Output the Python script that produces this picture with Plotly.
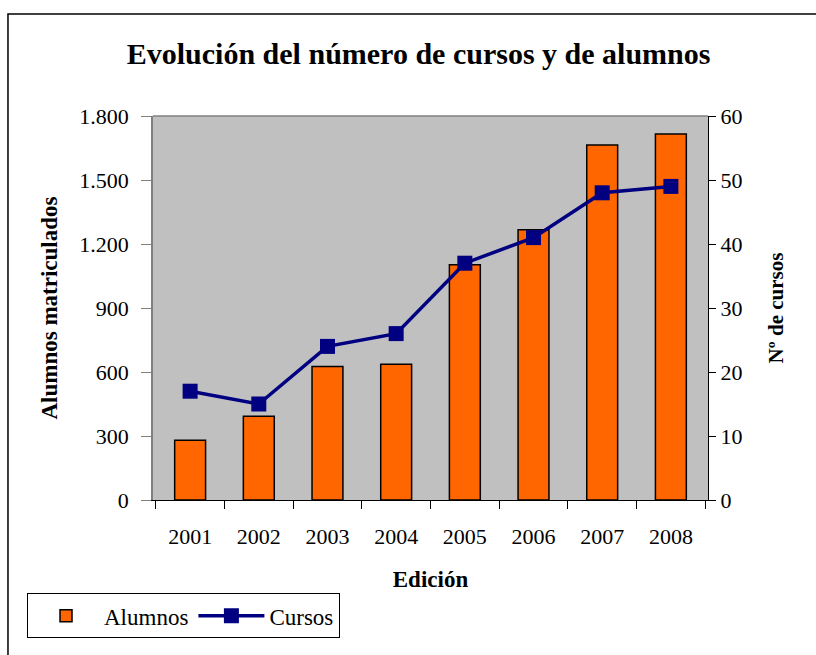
import plotly.graph_objects as go

ediciones = ["2001", "2002", "2003", "2004", "2005", "2006", "2007", "2008"]
alumnos = [280, 392, 626, 636, 1103, 1267, 1664, 1716]
cursos = [17, 15, 24, 26, 37, 41, 48, 49]
ticks_alumnos = [0, 300, 600, 900, 1200, 1500, 1800]
ticks_alumnos_txt = ["0", "300", "600", "900", "1.200", "1.500", "1.800"]

FUENTE = "Liberation Serif, Times New Roman, serif"

fig = go.Figure()

fig.add_trace(go.Bar(
    x=ediciones, y=alumnos, name="Alumnos",
    marker=dict(color="#FF6600", line=dict(color="black", width=1.5)),
    width=0.45,
))

fig.add_trace(go.Scatter(
    x=ediciones, y=cursos, name="Cursos", yaxis="y2",
    mode="lines+markers",
    line=dict(color="#000080", width=3.5),
    marker=dict(symbol="square", size=15, color="#000080"),
))

fig.update_layout(
    width=816, height=655,
    margin=dict(l=153, r=108, t=116, b=155),
    paper_bgcolor="white",
    plot_bgcolor="#C0C0C0",
    font=dict(family=FUENTE, size=22, color="black"),
    title=dict(text="<b>Evolución del número de cursos y de alumnos</b>",
               x=0.513, xanchor="center", y=0.919, yanchor="middle",
               font=dict(family=FUENTE, size=30)),
    showlegend=True,
    legend=dict(orientation="h", x=-0.227, y=-0.243, xanchor="left", yanchor="top",
                bordercolor="black", borderwidth=1, bgcolor="white",
                font=dict(family=FUENTE, size=23), itemwidth=66, tracegroupgap=0),
    xaxis=dict(
        title=dict(text="<b>Edición</b>", standoff=22, font=dict(family=FUENTE, size=23)),
        showline=True, linecolor="black", linewidth=1,
        ticks="outside", tickson="boundaries", ticklen=8, tickcolor="black",
        ticklabelstandoff=17,
        showgrid=False, tickfont=dict(family=FUENTE, size=22),
    ),
    yaxis=dict(
        title=dict(text="<b>Alumnos matriculados</b>", standoff=15, font=dict(family=FUENTE, size=23)),
        range=[0, 1800], tickvals=ticks_alumnos, ticktext=ticks_alumnos_txt,
        showline=True, linecolor="#808080", linewidth=1.5,
        ticks="outside", ticklen=10, tickcolor="#808080",
        ticklabelstandoff=8,
        showgrid=False, zeroline=False, tickfont=dict(family=FUENTE, size=22),
    ),
    yaxis2=dict(
        title=dict(text="<b>Nº de cursos</b>", standoff=26, font=dict(family=FUENTE, size=21)),
        overlaying="y", side="right", range=[0, 60], dtick=10,
        showline=True, linecolor="black", linewidth=1,
        ticks="outside", ticklen=7, tickcolor="black",
        showgrid=False, zeroline=False, tickfont=dict(family=FUENTE, size=22),
    ),
    bargap=0.55,
)

# borde superior gris del área de trazado y marco del gráfico
fig.add_shape(type="line", xref="paper", yref="paper", x0=0, x1=1, y0=1, y1=1,
              line=dict(color="#808080", width=1.5))
fig.add_shape(type="rect", xref="paper", yref="paper",
              x0=-0.2613, x1=1.25, y0=-0.45, y1=1.2656,
              line=dict(color="black", width=1.5), layer="below")

# sin margen de página para que el gráfico ocupe la ventana entera
fig.write_html("out.html", config={"displayModeBar": False},
               post_script="document.body.style.margin='0';document.body.style.overflow='hidden';")
